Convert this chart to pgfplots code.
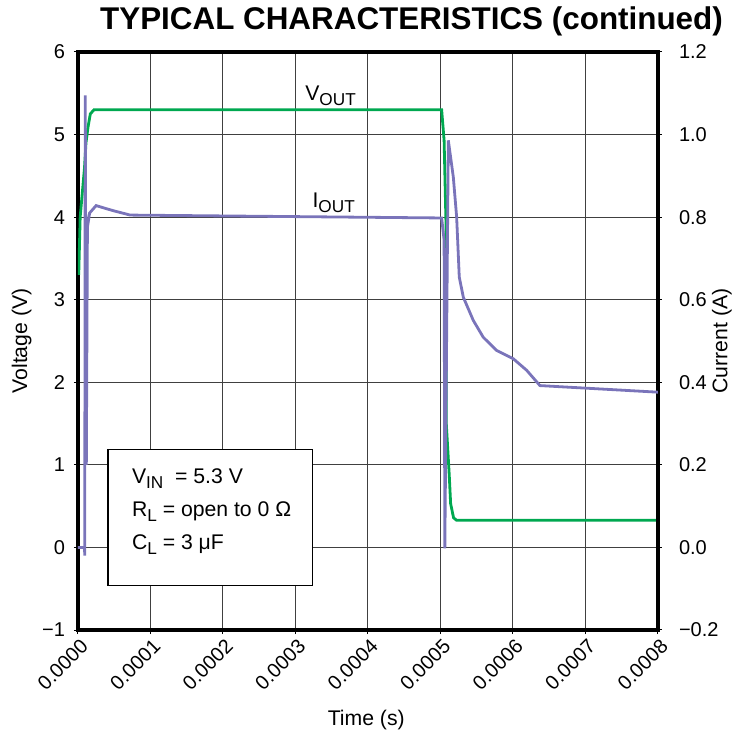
\documentclass[border=0pt]{standalone}
\usepackage{fontspec}
\setmainfont{Liberation Sans}
\usepackage{pgfplots}
\pgfplotsset{compat=1.18}

\definecolor{vout}{RGB}{0,168,80}
\definecolor{iout}{RGB}{122,116,186}

\newcommand{\sub}[1]{\raisebox{-0.45ex}{\fontsize{8.6}{9}\selectfont #1}}

\begin{document}
\begin{tikzpicture}
\pgfplotsset{
  every axis/.append style={
    scale only axis, width=290pt, height=289pt,
    at={(0,0)}, anchor=south west,
    xmin=0, xmax=0.0008,
    scaled x ticks=false, scaled y ticks=false,
    tick align=outside, major tick length=2pt,
    tick style={black, line width=0.5pt},
    tick label style={font=\fontsize{10}{12}\selectfont},
    label style={font=\fontsize{10.6}{12}\selectfont},
  },
}
\begin{axis}[
    ymin=-1, ymax=6,
    xtick={0,0.0001,0.0002,0.0003,0.0004,0.0005,0.0006,0.0007,0.0008},
    xticklabels={0.0000,0.0001,0.0002,0.0003,0.0004,0.0005,0.0006,0.0007,0.0008},
    ytick={-1,0,1,2,3,4,5,6},
    yticklabels={−1,0,1,2,3,4,5,6},
    xtick pos=bottom, ytick pos=left,
    x tick label style={rotate=45, anchor=east, xshift=2.5pt, yshift=-5.5pt},
    y tick label style={xshift=-1pt},
    grid=major,
    major grid style={black!75, line width=0.5pt},
    axis line style={line width=1.8pt},
    xlabel={Time (s)},
    ylabel={Voltage (V)},
    xlabel style={at={(axis description cs:0.497,-0.156)}, anchor=center},
    ylabel style={at={(axis description cs:-0.097,0.5)}, anchor=center},
]
% V_OUT
\addplot[vout, line width=1.4pt] coordinates {
  (0.000001,3.30) (0.000003,4.00) (0.000006,4.30) (0.000009,4.60)
  (0.000011,4.90) (0.000014,5.10) (0.000017,5.25) (0.000022,5.30)
  (0.0005016,5.30) (0.000505,4.93) (0.0005076,3.92) (0.000508,1.50)
  (0.000512,0.89) (0.000514,0.53) (0.000518,0.36) (0.000522,0.33)
  (0.0008,0.33)
};
\node[anchor=base west, inner sep=0pt] at (axis cs:0.000313,5.41) {\fontsize{10.6}{12}\selectfont V\sub{OUT}};
\node[anchor=base west, inner sep=0pt] at (axis cs:0.000323,4.12) {\fontsize{10.6}{12}\selectfont I\sub{OUT}};
\draw[black, line width=0.6pt, fill=white] (axis cs:0.0000414,1.187) rectangle (axis cs:0.000324,-0.46);
\node[anchor=north west, align=left, inner sep=0pt,
      font=\fontsize{10.6}{16.6}\selectfont] at (axis cs:0.000074,0.96)
  {V\sub{IN}\ \ = 5.3 V\\R\sub{L} = open to 0 Ω\\C\sub{L} = 3 μF};
\end{axis}
\begin{axis}[
    ymin=-0.2, ymax=1.2,
    axis x line=none,
    axis y line*=right,
    ytick={-0.2,0,0.2,0.4,0.6,0.8,1.0,1.2},
    yticklabels={−0.2,0.0,0.2,0.4,0.6,0.8,1.0,1.2},
    y tick label style={xshift=5pt},
    axis line style={line width=1.8pt},
    ylabel={Current (A)},
    ylabel style={at={(axis description cs:1.11,0.5)}, anchor=center, rotate=0},
]
% I_OUT
\addplot[iout, line width=1.4pt] coordinates {
  (0,0) (0.0000090,0) (0.0000093,-0.02) (0.0000100,1.095) (0.0000115,0.20)
  (0.0000130,0.775) (0.0000160,0.81) (0.0000250,0.828) (0.0000400,0.82)
  (0.0000500,0.815) (0.0000720,0.805) (0.0005016,0.798) (0.000505,0.744)
  (0.000506,-0.002) (0.0005108,0.986) (0.0005177,0.897) (0.0005223,0.80)
  (0.0005259,0.655) (0.0005315,0.606) (0.0005452,0.55) (0.000559,0.509)
  (0.0005775,0.477) (0.0006004,0.457) (0.0006189,0.429) (0.0006372,0.392)
  (0.0008,0.376)
};
\end{axis}
\node[anchor=base, inner sep=0pt, font=\bfseries\fontsize{15.7}{17}\selectfont]
  at (166.75pt,300pt) {TYPICAL CHARACTERISTICS (continued)};
\pgfresetboundingbox
\path[use as bounding box] (-39pt,-55pt) rectangle (328pt,315pt);
\end{tikzpicture}
\end{document}
